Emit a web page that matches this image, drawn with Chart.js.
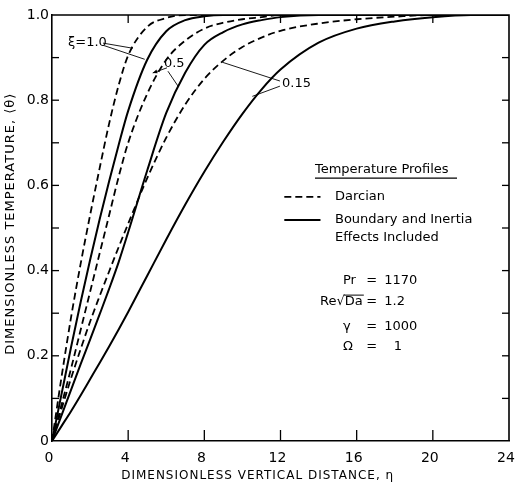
<!DOCTYPE html>
<html>
<head>
<meta charset="utf-8">
<title>Temperature profiles</title>
<script src="https://cdn.jsdelivr.net/npm/chart.js@4.4.1/dist/chart.umd.min.js"></script>
<style>
  body { margin: 0; background: #fff; }
  #wrap { width: 516px; height: 486px; }
</style>
</head>
<body>
<div id="wrap"><canvas id="profileChart"></canvas></div>
<script>
const eta = [0, 0.5, 1, 1.5, 2, 2.5, 3, 3.5, 4, 5, 6, 7, 8, 9, 10, 11, 12, 14, 16, 18, 20, 22, 24];

// xi = 1.0
const darcy10 = [0, 0.15, 0.29, 0.415, 0.53, 0.64, 0.745, 0.835, 0.905, 0.972, 0.993, 1, 1, 1, 1, 1, 1, 1, 1, 1, 1, 1, 1];
const full10  = [0, 0.11, 0.22, 0.325, 0.425, 0.52, 0.61, 0.695, 0.775, 0.895, 0.962, 0.988, 0.997, 1, 1, 1, 1, 1, 1, 1, 1, 1, 1];
// xi = 0.5
const darcy05 = [0, 0.085, 0.17, 0.26, 0.35, 0.44, 0.53, 0.62, 0.70, 0.815, 0.895, 0.94, 0.968, 0.982, 0.99, 0.995, 1, 1, 1, 1, 1, 1, 1];
const full05  = [0, 0.06, 0.12, 0.18, 0.238, 0.297, 0.357, 0.42, 0.49, 0.635, 0.77, 0.865, 0.93, 0.96, 0.978, 0.988, 0.995, 1, 1, 1, 1, 1, 1];
// xi = 0.15
const darcy015 = [0, 0.075, 0.147, 0.215, 0.28, 0.34, 0.398, 0.455, 0.51, 0.617, 0.712, 0.79, 0.85, 0.893, 0.925, 0.947, 0.963, 0.98, 0.99, 0.996, 1, 1, 1];
const full015  = [0, 0.035, 0.07, 0.107, 0.145, 0.183, 0.222, 0.262, 0.303, 0.388, 0.473, 0.555, 0.632, 0.703, 0.768, 0.825, 0.872, 0.935, 0.968, 0.985, 0.995, 1, 1];

const xiLabels = ['ξ=1.0', '0.5', '0.15'];
const params = [['Pr', '1170'], ['Re√Da', '1.2'], ['γ', '1000'], ['Ω', '1']];

const etaMin = 0, etaMax = 24, etaStep = 4;
const thetaMin = 0, thetaMax = 1, thetaStep = 0.1;

const xTitle = 'DIMENSIONLESS VERTICAL DISTANCE, η';
const yTitle = 'DIMENSIONLESS TEMPERATURE, ⟨θ⟩';

const FONT = "'DejaVu Sans', sans-serif";

function pairs(ys) {
    return eta.map((x, i) => ({ x: x, y: ys[i] }));
}

function curve(ys, dashed) {
    return {
        data: pairs(ys),
        borderColor: '#000',
        borderWidth: dashed ? 1.8 : 2,
        borderDash: dashed ? [7, 4] : [],
        pointRadius: 0,
        fill: false,
        cubicInterpolationMode: 'monotone'
    };
}

// where the hand-lettered labels sit, in data units
const notes = [
    { x: 0.84, y: 0.934, leaders: [[2.68, 0.934, 4.24, 0.922], [2.68, 0.929, 4.87, 0.896]] },
    { x: 5.88, y: 0.886, leaders: [[6.04, 0.876, 5.29, 0.864], [6.09, 0.868, 6.65, 0.831]], arrow: 0 },
    { x: 12.08, y: 0.840, leaders: [[11.97, 0.845, 8.95, 0.889], [11.97, 0.833, 10.52, 0.809]] }
];

const overlay = {
    id: 'overlay',
    afterDraw(chart) {
        const ctx = chart.ctx;
        const xs = chart.scales.x, ys = chart.scales.y;
        const a = chart.chartArea;
        const px = v => xs.getPixelForValue(v);
        const py = v => ys.getPixelForValue(v);

        function seg(x1, y1, x2, y2) {
            ctx.beginPath();
            ctx.moveTo(x1, y1);
            ctx.lineTo(x2, y2);
            ctx.stroke();
        }

        ctx.save();
        ctx.strokeStyle = '#000';
        ctx.fillStyle = '#000';

        // frame top + right
        ctx.lineWidth = 1.6;
        ctx.beginPath();
        ctx.moveTo(a.left, a.top);
        ctx.lineTo(a.right, a.top);
        ctx.lineTo(a.right, a.bottom);
        ctx.stroke();

        // inward ticks
        ctx.lineWidth = 1.3;
        ys.ticks.forEach(t => {
            if (t.value <= thetaMin + 1e-6 || t.value >= thetaMax - 1e-6) return;
            const y = py(t.value);
            seg(a.left, y, a.left + 7, y);
            seg(a.right - 7, y, a.right, y);
        });
        xs.ticks.forEach(t => {
            if (t.value <= etaMin || t.value >= etaMax) return;
            const x = px(t.value);
            seg(x, a.bottom, x, a.bottom - 11);
            seg(x, a.top, x, a.top + 8);
        });

        // axis titles, lettered wide like the original
        ctx.textBaseline = 'middle';
        ctx.textAlign = 'center';
        ctx.letterSpacing = '1px';
        ctx.font = '12px ' + FONT;
        ctx.fillText(xTitle, px(10.8), 476);
        ctx.save();
        ctx.translate(11, py(0.51));
        ctx.rotate(-Math.PI / 2);
        ctx.font = '13px ' + FONT;
        ctx.fillText(yTitle, 0, 0);
        ctx.restore();
        ctx.letterSpacing = '0px';

        // curve labels with leader lines
        ctx.font = '13px ' + FONT;
        ctx.textAlign = 'left';
        ctx.lineWidth = 0.9;
        notes.forEach((n, i) => {
            ctx.fillText(xiLabels[i], px(n.x), py(n.y));
            n.leaders.forEach((l, j) => {
                seg(px(l[0]), py(l[1]), px(l[2]), py(l[3]));
                if (n.arrow === j) {
                    const ex = px(l[2]), ey = py(l[3]);
                    const ang = Math.atan2(ey - py(l[1]), ex - px(l[0]));
                    ctx.beginPath();
                    ctx.moveTo(ex, ey);
                    ctx.lineTo(ex - 5 * Math.cos(ang - 0.4), ey - 5 * Math.sin(ang - 0.4));
                    ctx.lineTo(ex - 5 * Math.cos(ang + 0.4), ey - 5 * Math.sin(ang + 0.4));
                    ctx.closePath();
                    ctx.fill();
                }
            });
        });

        // legend box
        const dsDash = chart.data.datasets[0];
        const dsSolid = chart.data.datasets[1];
        ctx.font = '13px ' + FONT;
        ctx.fillText('Temperature Profiles', px(13.81), py(0.638));
        ctx.lineWidth = 1.3;
        seg(px(13.81), py(0.617), px(21.27), py(0.617));

        ctx.lineWidth = dsDash.borderWidth;
        ctx.setLineDash(dsDash.borderDash);
        seg(px(12.2), py(0.573), px(14.1), py(0.573));
        ctx.setLineDash(dsSolid.borderDash);
        ctx.lineWidth = dsSolid.borderWidth;
        seg(px(12.2), py(0.519), px(14.1), py(0.519));
        ctx.fillText('Darcian', px(14.86), py(0.573));
        ctx.fillText('Boundary and Inertia', px(14.86), py(0.519));
        ctx.fillText('Effects Included', px(14.86), py(0.477));

        // parameters
        const rowY = [0.376, 0.326, 0.268, 0.221];
        const nameX = [15.28, 14.08, 15.28, 15.28];
        const valX = [17.45, 17.45, 17.45, 17.95];
        params.forEach((p, i) => {
            const y = py(rowY[i]);
            const x0 = px(nameX[i]);
            ctx.fillText(p[0], x0, y);
            ctx.fillText('=', px(16.5), y);
            ctx.fillText(p[1], px(valX[i]), y);
            if (p[0].indexOf('√') >= 0) {
                const w1 = ctx.measureText(p[0].slice(0, p[0].indexOf('√') + 1)).width;
                const w2 = ctx.measureText(p[0]).width;
                ctx.lineWidth = 1;
                seg(x0 + w1 - 1, y - 7, x0 + w2 + 1, y - 7);
            }
        });

        ctx.restore();
    }
};

const ctx = document.getElementById('profileChart');

new Chart(ctx, {
    type: 'line',
    data: {
        datasets: [
            curve(darcy10, true),
            curve(full10, false),
            curve(darcy05, true),
            curve(full05, false),
            curve(darcy015, true),
            curve(full015, false)
        ]
    },
    options: {
        responsive: true,
        maintainAspectRatio: false,
        animation: false,
        layout: { padding: { top: 15, right: 7, left: 0, bottom: 0 } },
        plugins: {
            legend: { display: false },
            tooltip: { enabled: false }
        },
        scales: {
            x: {
                type: 'linear',
                min: etaMin,
                max: etaMax,
                grid: { display: false, drawTicks: false },
                border: { display: true, color: '#000', width: 1.6 },
                ticks: {
                    stepSize: etaStep,
                    color: '#000',
                    font: { family: FONT, size: 14 },
                    padding: 9,
                    labelOffset: -3,
                    maxRotation: 0
                },
                afterFit(scale) {
                    scale.height = 45;
                    scale.paddingLeft = 0;
                    scale.paddingRight = 0;
                }
            },
            y: {
                min: thetaMin,
                max: thetaMax,
                grid: { display: false, drawTicks: false },
                border: { display: true, color: '#000', width: 1.6 },
                ticks: {
                    stepSize: thetaStep,
                    autoSkip: false,
                    color: '#000',
                    font: { family: FONT, size: 14 },
                    padding: 3,
                    callback: function (v) {
                        const r = Math.round(v * 10);
                        if (r % 2) return '';
                        return r === 0 ? '0' : (r / 10).toFixed(1);
                    }
                },
                afterFit(scale) { scale.width = 52; }
            }
        }
    },
    plugins: [overlay]
});
</script>
</body>
</html>
